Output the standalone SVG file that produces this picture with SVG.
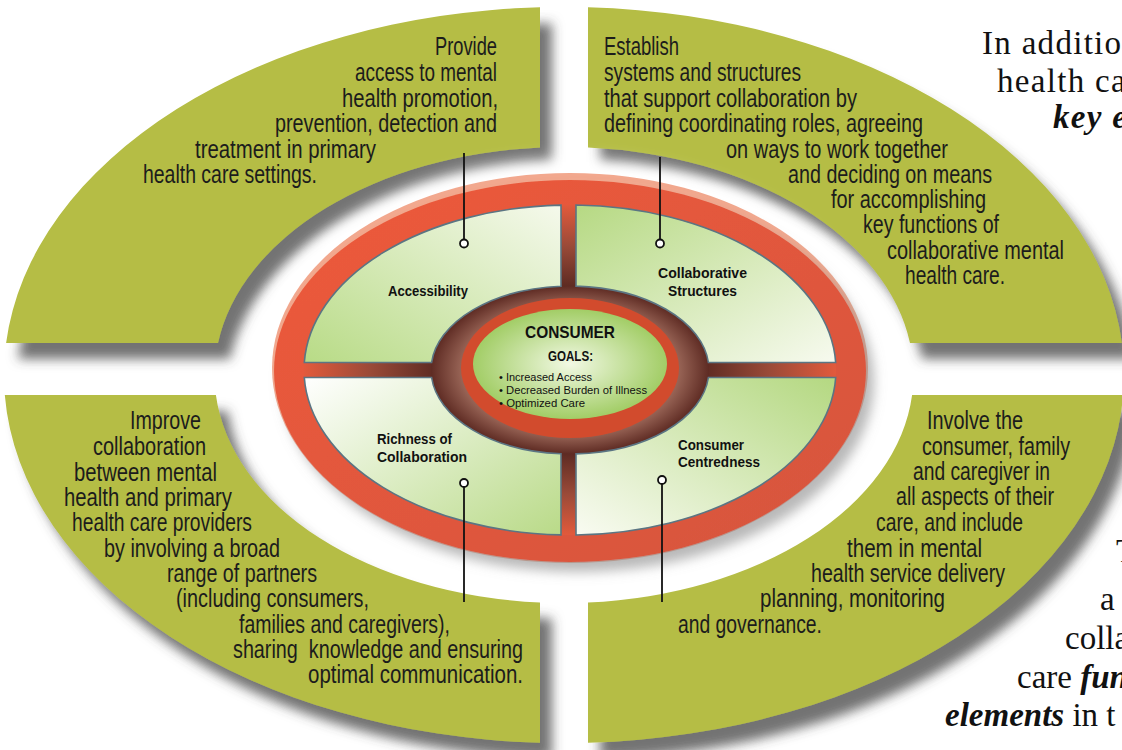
<svg xmlns="http://www.w3.org/2000/svg" width="1122" height="750" viewBox="0 0 1122 750">
<defs>
<style>
.g{fill:#b5bd44}
.bt{font-family:"Liberation Sans",Arial,sans-serif;font-size:26px;fill:#1c1c1c}
.lb{font-family:"Liberation Sans",Arial,sans-serif;font-size:15px;font-weight:bold;fill:#111}
.sf{font-family:"Liberation Serif","Times New Roman",serif;font-size:33px;fill:#111}
.wide{letter-spacing:1.3px}
.bi{font-weight:bold;font-style:italic}
.seg{stroke:#5b7583;stroke-width:1.6}
.cn{stroke:#111;stroke-width:1.8;fill:none}
.dot{stroke:#111;stroke-width:1.8;fill:#fff}
</style>
<filter id="sh" x="-10%" y="-10%" width="130%" height="130%">
<feDropShadow dx="12" dy="16" stdDeviation="6" flood-color="#444" flood-opacity="0.75"/>
</filter>
<filter id="glow" x="-20%" y="-20%" width="140%" height="140%">
<feGaussianBlur stdDeviation="9"/>
</filter>
<filter id="rsh" x="-10%" y="-10%" width="130%" height="130%">
<feDropShadow dx="8" dy="10" stdDeviation="6" flood-color="#8a8a8a" flood-opacity="0.6"/>
</filter>
<linearGradient id="red" x1="0" y1="0" x2="1" y2="1">
<stop offset="0" stop-color="#ee5a3a"/>
<stop offset="1" stop-color="#d5553f"/>
</linearGradient>
<radialGradient id="bars" cx="50%" cy="50%" r="50%">
<stop offset="0.5" stop-color="#5c2a22"/>
<stop offset="0.75" stop-color="#9a4a38"/>
<stop offset="1" stop-color="#e25a3c"/>
</radialGradient>
<radialGradient id="brown" cx="50%" cy="50%" r="50%">
<stop offset="0.72" stop-color="#a87464"/>
<stop offset="1" stop-color="#5e2b23"/>
</radialGradient>
<radialGradient id="core" cx="50%" cy="50%" r="50%">
<stop offset="0" stop-color="#f2f9e4"/>
<stop offset="1" stop-color="#a2cd66"/>
</radialGradient>
<linearGradient id="gTL" x1="0" y1="1" x2="1" y2="0">
<stop offset="0" stop-color="#b8db86"/>
<stop offset="1" stop-color="#f5f9ec"/>
</linearGradient>
<linearGradient id="gTR" x1="0" y1="0" x2="1" y2="1">
<stop offset="0" stop-color="#b6d983"/>
<stop offset="1" stop-color="#f7faef"/>
</linearGradient>
<linearGradient id="gBL" x1="0" y1="0" x2="1" y2="1">
<stop offset="0" stop-color="#ffffff"/>
<stop offset="1" stop-color="#b9da88"/>
</linearGradient>
<linearGradient id="gBR" x1="0" y1="1" x2="1" y2="0">
<stop offset="0" stop-color="#f9fbf2"/>
<stop offset="1" stop-color="#b4d881"/>
</linearGradient>
</defs>
<rect width="1122" height="750" fill="#fff"/>

<!-- outer green quadrants -->
<g id="outer-accessibility">
<path class="g" filter="url(#sh)" d="M540,7.3 A560,368 0 0,0 6.1,343 L218,343 A349.5,228 0 0,1 540,147.5 Z"/>
</g>
<g id="outer-structures">
<path class="g" filter="url(#sh)" d="M588,7.3 A560,368 0 0,1 1121.9,343 L910,343 A349.5,228 0 0,0 588,147.5 Z"/>
</g>
<g id="outer-richness">
<path class="g" filter="url(#sh)" d="M4.8,395 A560,368 0 0,0 540,742.7 L540,602.5 A349.5,228 0 0,1 215.9,395 Z"/>
</g>
<g id="outer-centredness">
<path class="g" filter="url(#sh)" d="M588,742.7 A560,368 0 0,0 1123.2,395 L912.1,395 A349.5,228 0 0,1 588,602.5 Z"/>
</g>

<!-- central wheel -->
<g id="wheel">
<ellipse cx="570" cy="372" rx="316" ry="210" fill="#fff" filter="url(#glow)"/>
<ellipse cx="570" cy="368" rx="298" ry="195" fill="#f2a88e"/>
<ellipse cx="570" cy="371" rx="296" ry="191" fill="url(#red)" filter="url(#rsh)"/>
<ellipse cx="570" cy="370" rx="266" ry="165" fill="url(#bars)"/>
<ellipse cx="570" cy="370" rx="139" ry="84" fill="url(#brown)"/>
</g>

<g id="seg-accessibility">
<path class="seg" fill="url(#gTL)" d="M561,205.1 A266,165 0 0,0 304.3,362.5 L431.6,362.5 A139,84 0 0,1 561,286.2 Z"/>
<text class="lb" x="388" y="296" textLength="80" lengthAdjust="spacingAndGlyphs">Accessibility</text>
</g>
<g id="seg-structures">
<path class="seg" fill="url(#gTR)" d="M576,205 A266,165 0 0,1 835.7,362.5 L708.4,362.5 A139,84 0 0,0 576,286.1 Z"/>
<text class="lb" x="658" y="278" textLength="89" lengthAdjust="spacingAndGlyphs">Collaborative</text>
<text class="lb" x="668" y="296" textLength="69" lengthAdjust="spacingAndGlyphs">Structures</text>
</g>
<g id="seg-richness">
<path class="seg" fill="url(#gBL)" d="M304.3,377.5 A266,165 0 0,0 561,534.9 L561,453.8 A139,84 0 0,1 431.6,377.5 Z"/>
<text class="lb" x="377" y="444" textLength="75" lengthAdjust="spacingAndGlyphs">Richness of</text>
<text class="lb" x="377" y="462" textLength="90" lengthAdjust="spacingAndGlyphs">Collaboration</text>
</g>
<g id="seg-centredness">
<path class="seg" fill="url(#gBR)" d="M576,535 A266,165 0 0,0 835.7,377.5 L708.4,377.5 A139,84 0 0,1 576,453.9 Z"/>
<text class="lb" x="678" y="450" textLength="66" lengthAdjust="spacingAndGlyphs">Consumer</text>
<text class="lb" x="678" y="467" textLength="82" lengthAdjust="spacingAndGlyphs">Centredness</text>
</g>

<g id="consumer-goals">
<ellipse cx="570" cy="368" rx="109" ry="70" fill="#d24b2d"/>
<ellipse cx="570" cy="364" rx="97" ry="55" fill="url(#core)"/>
<text class="lb" x="525" y="338" style="font-size:17px" textLength="90" lengthAdjust="spacingAndGlyphs">CONSUMER</text>
<text class="lb" x="548" y="361" style="font-size:14px" textLength="45" lengthAdjust="spacingAndGlyphs">GOALS:</text>
<text class="lb" x="499" y="381" style="font-size:11.5px;font-weight:normal" textLength="93" lengthAdjust="spacingAndGlyphs">• Increased Access</text>
<text class="lb" x="499" y="394" style="font-size:11.5px;font-weight:normal" textLength="148" lengthAdjust="spacingAndGlyphs">• Decreased Burden of Illness</text>
<text class="lb" x="499" y="407" style="font-size:11.5px;font-weight:normal" textLength="86" lengthAdjust="spacingAndGlyphs">• Optimized Care</text>
</g>

<!-- description texts -->
<g id="text-accessibility" class="bt">
<text x="435" y="55" textLength="62" lengthAdjust="spacingAndGlyphs">Provide</text>
<text x="355" y="81" textLength="142" lengthAdjust="spacingAndGlyphs">access to mental</text>
<text x="342" y="107" textLength="156" lengthAdjust="spacingAndGlyphs">health promotion,</text>
<text x="275" y="132" textLength="222" lengthAdjust="spacingAndGlyphs">prevention, detection and</text>
<text x="195" y="158" textLength="181" lengthAdjust="spacingAndGlyphs">treatment in primary</text>
<text x="143" y="183" textLength="174" lengthAdjust="spacingAndGlyphs">health care settings.</text>
</g>
<g id="text-structures" class="bt">
<text x="604" y="55" textLength="75" lengthAdjust="spacingAndGlyphs">Establish</text>
<text x="604" y="81" textLength="197" lengthAdjust="spacingAndGlyphs">systems and structures</text>
<text x="604" y="107" textLength="253" lengthAdjust="spacingAndGlyphs">that support collaboration by</text>
<text x="604" y="132" textLength="319" lengthAdjust="spacingAndGlyphs">defining coordinating roles, agreeing</text>
<text x="726" y="158" textLength="222" lengthAdjust="spacingAndGlyphs">on ways to work together</text>
<text x="788" y="183" textLength="204" lengthAdjust="spacingAndGlyphs">and deciding on means</text>
<text x="831" y="208" textLength="155" lengthAdjust="spacingAndGlyphs">for accomplishing</text>
<text x="863" y="233" textLength="136" lengthAdjust="spacingAndGlyphs">key functions of</text>
<text x="887" y="259" textLength="177" lengthAdjust="spacingAndGlyphs">collaborative mental</text>
<text x="905" y="284" textLength="100" lengthAdjust="spacingAndGlyphs">health care.</text>
</g>
<g id="text-richness" class="bt">
<text x="130" y="429" textLength="71" lengthAdjust="spacingAndGlyphs">Improve</text>
<text x="93" y="455" textLength="113" lengthAdjust="spacingAndGlyphs">collaboration</text>
<text x="74" y="481" textLength="143" lengthAdjust="spacingAndGlyphs">between mental</text>
<text x="64" y="506" textLength="168" lengthAdjust="spacingAndGlyphs">health and primary</text>
<text x="72" y="531" textLength="180" lengthAdjust="spacingAndGlyphs">health care providers</text>
<text x="104" y="557" textLength="176" lengthAdjust="spacingAndGlyphs">by involving a broad</text>
<text x="167" y="582" textLength="150" lengthAdjust="spacingAndGlyphs">range of partners</text>
<text x="176" y="607" textLength="193" lengthAdjust="spacingAndGlyphs">(including consumers,</text>
<text x="239" y="633" textLength="211" lengthAdjust="spacingAndGlyphs">families and caregivers),</text>
<text x="233" y="658" textLength="290" lengthAdjust="spacingAndGlyphs" style="white-space:pre">sharing  knowledge and ensuring</text>
<text x="308" y="683" textLength="215" lengthAdjust="spacingAndGlyphs">optimal communication.</text>
</g>
<g id="text-centredness" class="bt">
<text x="927" y="429" textLength="96" lengthAdjust="spacingAndGlyphs">Involve the</text>
<text x="922" y="455" textLength="148" lengthAdjust="spacingAndGlyphs">consumer, family</text>
<text x="913" y="480" textLength="137" lengthAdjust="spacingAndGlyphs">and caregiver in</text>
<text x="896" y="505" textLength="158" lengthAdjust="spacingAndGlyphs">all aspects of their</text>
<text x="876" y="531" textLength="147" lengthAdjust="spacingAndGlyphs">care, and include</text>
<text x="847" y="557" textLength="135" lengthAdjust="spacingAndGlyphs">them in mental</text>
<text x="811" y="582" textLength="194" lengthAdjust="spacingAndGlyphs">health service delivery</text>
<text x="760" y="607" textLength="185" lengthAdjust="spacingAndGlyphs">planning, monitoring</text>
<text x="678" y="633" textLength="144" lengthAdjust="spacingAndGlyphs">and governance.</text>
</g>

<!-- side paragraph (cropped) -->
<g id="side-text" class="sf">
<text x="982" y="54" class="wide">In addition</text>
<text x="997" y="92" class="wide">health ca</text>
<text x="1053" y="128" class="bi wide">key e</text>
<text x="1116" y="562">T</text>
<text x="1100" y="610">a</text>
<text x="1065" y="649">colla</text>
<text x="1017" y="688">care <tspan class="bi">fun</tspan></text>
<text x="945" y="726"><tspan class="bi">elements</tspan> in t</text>
</g>

<!-- connectors -->
<g id="connectors">
<line class="cn" x1="464" y1="153" x2="464" y2="239"/>
<circle class="dot" cx="464" cy="243.5" r="4"/>
<line class="cn" x1="660" y1="157" x2="660" y2="239"/>
<circle class="dot" cx="660" cy="243.5" r="4"/>
<line class="cn" x1="464" y1="487" x2="464" y2="602"/>
<circle class="dot" cx="464" cy="483" r="4"/>
<line class="cn" x1="662" y1="484" x2="662" y2="602"/>
<circle class="dot" cx="662" cy="480" r="4"/>
</g>
</svg>
